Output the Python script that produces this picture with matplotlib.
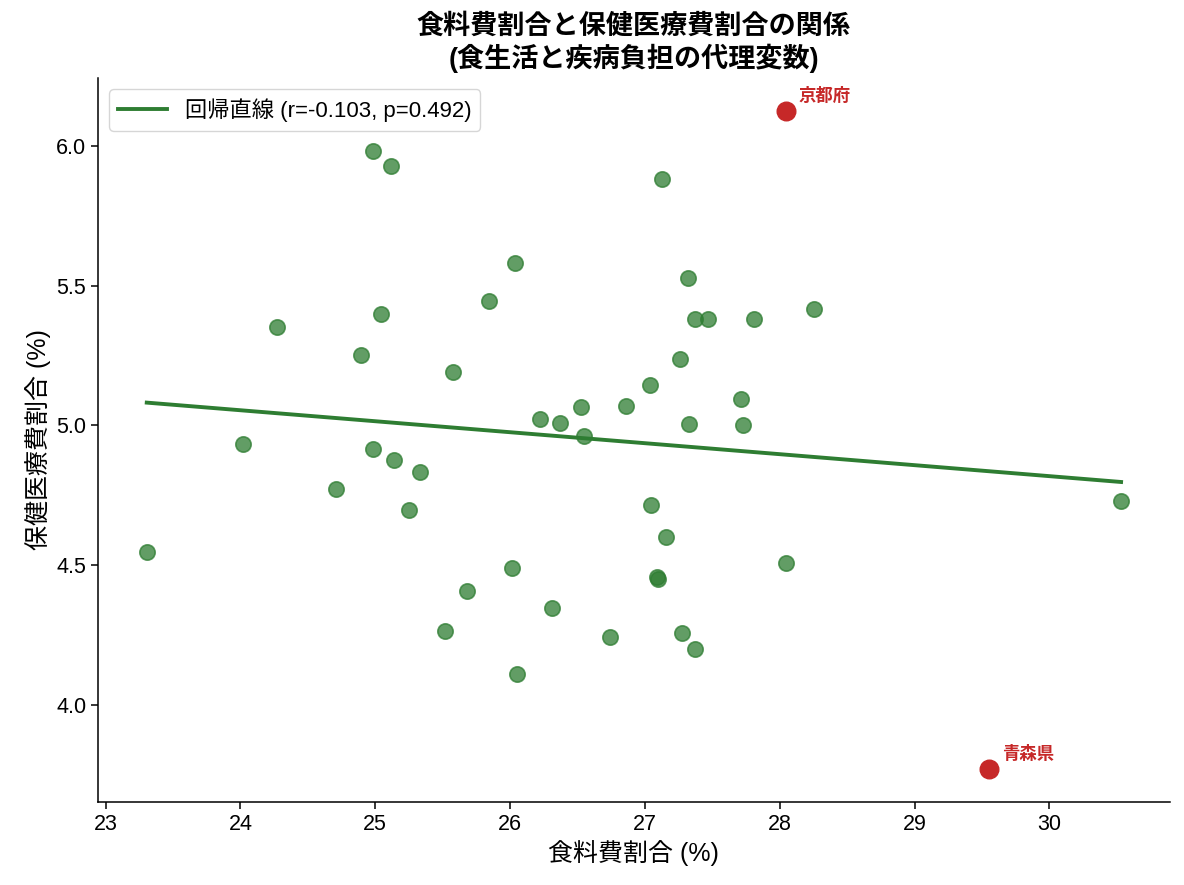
import numpy as np
import matplotlib
matplotlib.use('Agg')
import matplotlib.pyplot as plt

plt.rcParams['font.family'] = ['Liberation Sans', 'Noto Sans CJK JP', 'DejaVu Sans']

# food share (%) vs health-care share (%), one point per prefecture
food_share = [23.305, 24.022, 24.269, 24.705, 24.894, 24.986, 24.986, 25.042, 25.118,
              25.141, 25.252, 25.333, 25.520, 25.577, 25.681, 25.842, 26.016, 26.036,
              26.052, 26.220, 26.312, 26.370, 26.525, 26.548, 26.740, 26.857, 27.044,
              27.040, 27.086, 27.095, 27.124, 27.156, 27.258, 27.272, 27.317, 27.326,
              27.369, 27.369, 27.466, 27.715, 27.724, 27.805, 28.043, 28.250, 30.531]
health_share = [4.547, 4.932, 5.350, 4.773, 5.253, 5.982, 4.915, 5.397, 5.928,
                4.876, 4.697, 4.835, 4.265, 5.192, 4.410, 5.443, 4.492, 5.580,
                4.110, 5.022, 4.348, 5.009, 5.065, 4.963, 4.243, 5.071, 4.716,
                5.146, 4.459, 4.450, 5.881, 4.601, 5.236, 4.257, 5.526, 5.004,
                5.380, 4.200, 5.380, 5.094, 5.000, 5.382, 4.508, 5.415, 4.730]

# highlighted prefectures
hl_names = ['京都府', '青森県']
hl_food = [28.043, 29.553]
hl_health = [6.124, 3.772]

legend_label = '回帰直線 (r=-0.103, p=0.492)'

green = '#2e7d32'
red = '#c62828'

fig = plt.figure(figsize=(11.84, 8.85), dpi=100)
ax = fig.add_axes([0.0828, 0.0938, 0.9052, 0.8181])

ax.scatter(food_share, health_share, s=122, color=green, alpha=0.75,
           edgecolors=green, linewidths=1.2, zorder=1)

all_x = np.array(food_share + hl_food)
all_y = np.array(health_share + hl_health)
slope, intercept = np.polyfit(all_x, all_y, 1)
xs = np.array([all_x.min(), all_x.max()])
ax.plot(xs, slope * xs + intercept, color=green, lw=2.8, label=legend_label, zorder=2)

ax.scatter(hl_food, hl_health, s=180, color=red, zorder=3)
for name, fx, hy in zip(hl_names, hl_food, hl_health):
    ax.annotate(name, (fx, hy), xytext=(9, 5), textcoords='offset points',
                ha='left', va='bottom', fontsize=12.5, fontweight='bold', color=red)

ax.set_xlabel('食料費割合 (%)', fontsize=18)
ax.set_ylabel('保健医療費割合 (%)', fontsize=18)
ax.set_title('食料費割合と保健医療費割合の関係\n(食生活と疾病負担の代理変数)',
             fontsize=19.5, fontweight='bold', pad=8, linespacing=1.15)

ax.tick_params(labelsize=15.5, length=5, width=1.1)
ax.spines['top'].set_visible(False)
ax.spines['right'].set_visible(False)
for sp in ('left', 'bottom'):
    ax.spines[sp].set_linewidth(1.1)

ax.legend(loc='upper left', fontsize=16, frameon=True, handlelength=2.2,
          borderpad=0.4, edgecolor='#cccccc')

fig.savefig('out.png', dpi=100)
